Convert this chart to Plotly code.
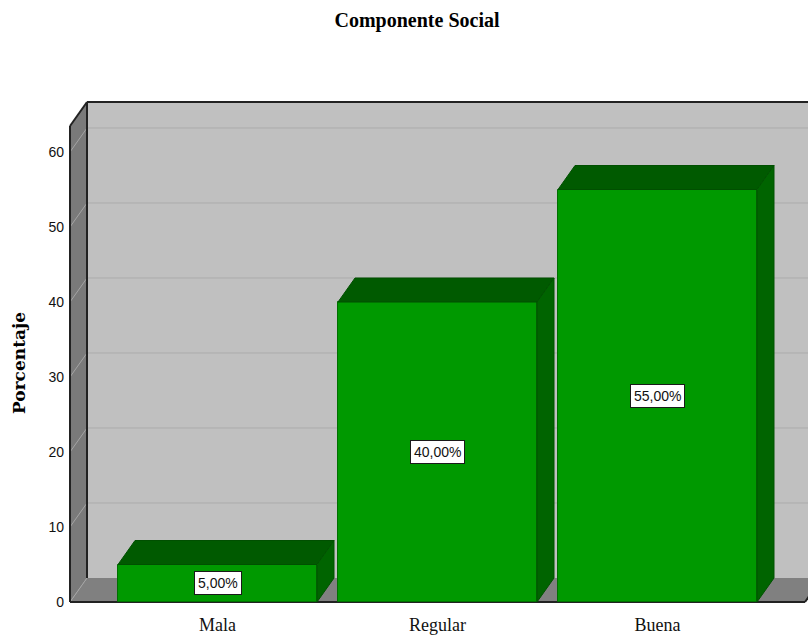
import plotly.graph_objects as go

# ---- data ----
categories = ["Mala", "Regular", "Buena"]
values = [5.0, 40.0, 55.0]
y_ticks = [0, 10, 20, 30, 40, 50, 60]
title_text = "Componente Social"
y_title = "Porcentaje"

# ---- layout constants (pixels) ----
W, H = 808, 635
L, R, T, B = 68, 0, 100, 31
PX_CAT = 220.0          # pixels per category step
PX_UNIT = 7.5           # pixels per percentage unit
CENTER0 = 217.5         # pixel x of first category centre
ZERO_PX = 602.0         # pixel y of value 0 (front plane)

def px_to_x(px):
    return (px - CENTER0) / PX_CAT

x_lo = px_to_x(L)
x_hi = px_to_x(W - R)
y_lo = -((H - B) - ZERO_PX) / PX_UNIT
y_hi = (ZERO_PX - T) / PX_UNIT

DX = 17.0 / PX_CAT       # depth offset in x units
DY = 24.0 / PX_UNIT      # depth offset in y units
xl = px_to_x(70)         # front-left wall edge
xr = px_to_x(805)        # front-right floor edge
top_front = (ZERO_PX - 126) / PX_UNIT
top_back = top_front + DY
BAR_W = 199.0 / PX_CAT

WALL = "#c0c0c0"
SIDE = "#7a7a7a"
FLOOR = "#808080"
EDGE = "#222222"
GRID_BACK = "#ababab"
GRID_SIDE = "#a4a4a4"
FRONT = "#009900"
TOP = "#005a00"
RSIDE = "#006400"

shapes = []
# back wall
shapes.append(dict(type="rect", xref="x", yref="y", x0=xl + DX, x1=xr + DX, y0=DY, y1=top_back,
                   fillcolor=WALL, line=dict(width=0), layer="below"))
# left wall
shapes.append(dict(type="path", xref="x", yref="y",
                   path=f"M {xl},0 L {xl+DX},{DY} L {xl+DX},{top_back} L {xl},{top_front} Z",
                   fillcolor=SIDE, line=dict(width=0), layer="below"))
# floor
shapes.append(dict(type="path", xref="x", yref="y",
                   path=f"M {xl},0 L {xr},0 L {xr+DX},{DY} L {xl+DX},{DY} Z",
                   fillcolor=FLOOR, line=dict(width=0), layer="below"))
# gridlines
for v in y_ticks:
    if v > 0:
        shapes.append(dict(type="line", xref="x", yref="y", x0=xl + DX, x1=xr + DX, y0=v + DY, y1=v + DY,
                           line=dict(color=GRID_BACK, width=1), layer="below"))
    shapes.append(dict(type="line", xref="x", yref="y", x0=xl, x1=xl + DX, y0=v, y1=v + DY,
                       line=dict(color=GRID_SIDE, width=1), layer="below"))
# frame edges
edges = [
    (xl, 0, xl, top_front),
    (xl, top_front, xl + DX, top_back),
    (xl + DX, DY, xl + DX, top_back),
    (xl + DX, top_back, xr + DX, top_back),
    (xl, 0, xr, 0),
    (xr, 0, xr + DX, DY),
]
for x0, y0, x1, y1 in edges:
    shapes.append(dict(type="line", xref="x", yref="y", x0=x0, y0=y0, x1=x1, y1=y1,
                       line=dict(color=EDGE, width=2), layer="below"))

fig = go.Figure()
xs = list(range(len(categories)))

# 3D faces of bars
for i, v in zip(xs, values):
    a, b = i - BAR_W / 2, i + BAR_W / 2
    fig.add_trace(go.Scatter(
        x=[a, a + DX, b + DX, b, a], y=[v, v + DY, v + DY, v, v],
        fill="toself", fillcolor=TOP, mode="lines",
        line=dict(color="#004f00", width=1), hoverinfo="skip", showlegend=False))
    fig.add_trace(go.Scatter(
        x=[b, b + DX, b + DX, b, b], y=[0, DY, v + DY, v, 0],
        fill="toself", fillcolor=RSIDE, mode="lines",
        line=dict(color="#005200", width=1), hoverinfo="skip", showlegend=False))

# front faces
fig.add_trace(go.Bar(x=xs, y=values, width=BAR_W, marker=dict(color=FRONT, line=dict(color="#006f00", width=1)),
                     showlegend=False, hoverinfo="skip"))

annotations = []
for i, v in zip(xs, values):
    annotations.append(dict(
        x=i, y=v / 2, xref="x", yref="y", showarrow=False,
        text=f"{v:.2f}".replace(".", ",") + "%",
        font=dict(family="Liberation Sans", size=14, color="#111111"),
        bgcolor="white", bordercolor="#1a1a1a", borderwidth=1, borderpad=3))

annotations.append(dict(
    text=f"<b>{y_title}</b>", xref="paper", yref="paper",
    x=(19 - L) / (W - L - R), y=((H - B) - 363) / (H - B - T),
    xanchor="center", yanchor="middle", textangle=-90, showarrow=False,
    font=dict(family="DejaVu Serif", size=17, color="black")))

fig.update_layout(
    width=W, height=H,
    margin=dict(l=L, r=R, t=T, b=B),
    paper_bgcolor="white", plot_bgcolor="white",
    title=dict(text=f"<b>{title_text}</b>", x=417 / W, xanchor="center",
               y=1 - 20 / H, yanchor="middle",
               font=dict(family="Liberation Serif", size=20, color="black")),
    xaxis=dict(range=[x_lo, x_hi], tickvals=xs, ticktext=categories, showgrid=False,
               zeroline=False, showline=False, ticks="", ticklabelstandoff=8,
               tickfont=dict(family="Liberation Serif", size=18, color="#111111")),
    yaxis=dict(range=[y_lo, y_hi], tickvals=y_ticks, showgrid=False, zeroline=False,
               showline=False, ticks="", ticklabelstandoff=3,
               tickfont=dict(family="Liberation Sans", size=14, color="#111111")),
    shapes=shapes, annotations=annotations, bargap=0,
)

fig.write_html("out.html", config={"displayModeBar": False},
               post_script="document.body.style.margin='0px';")
